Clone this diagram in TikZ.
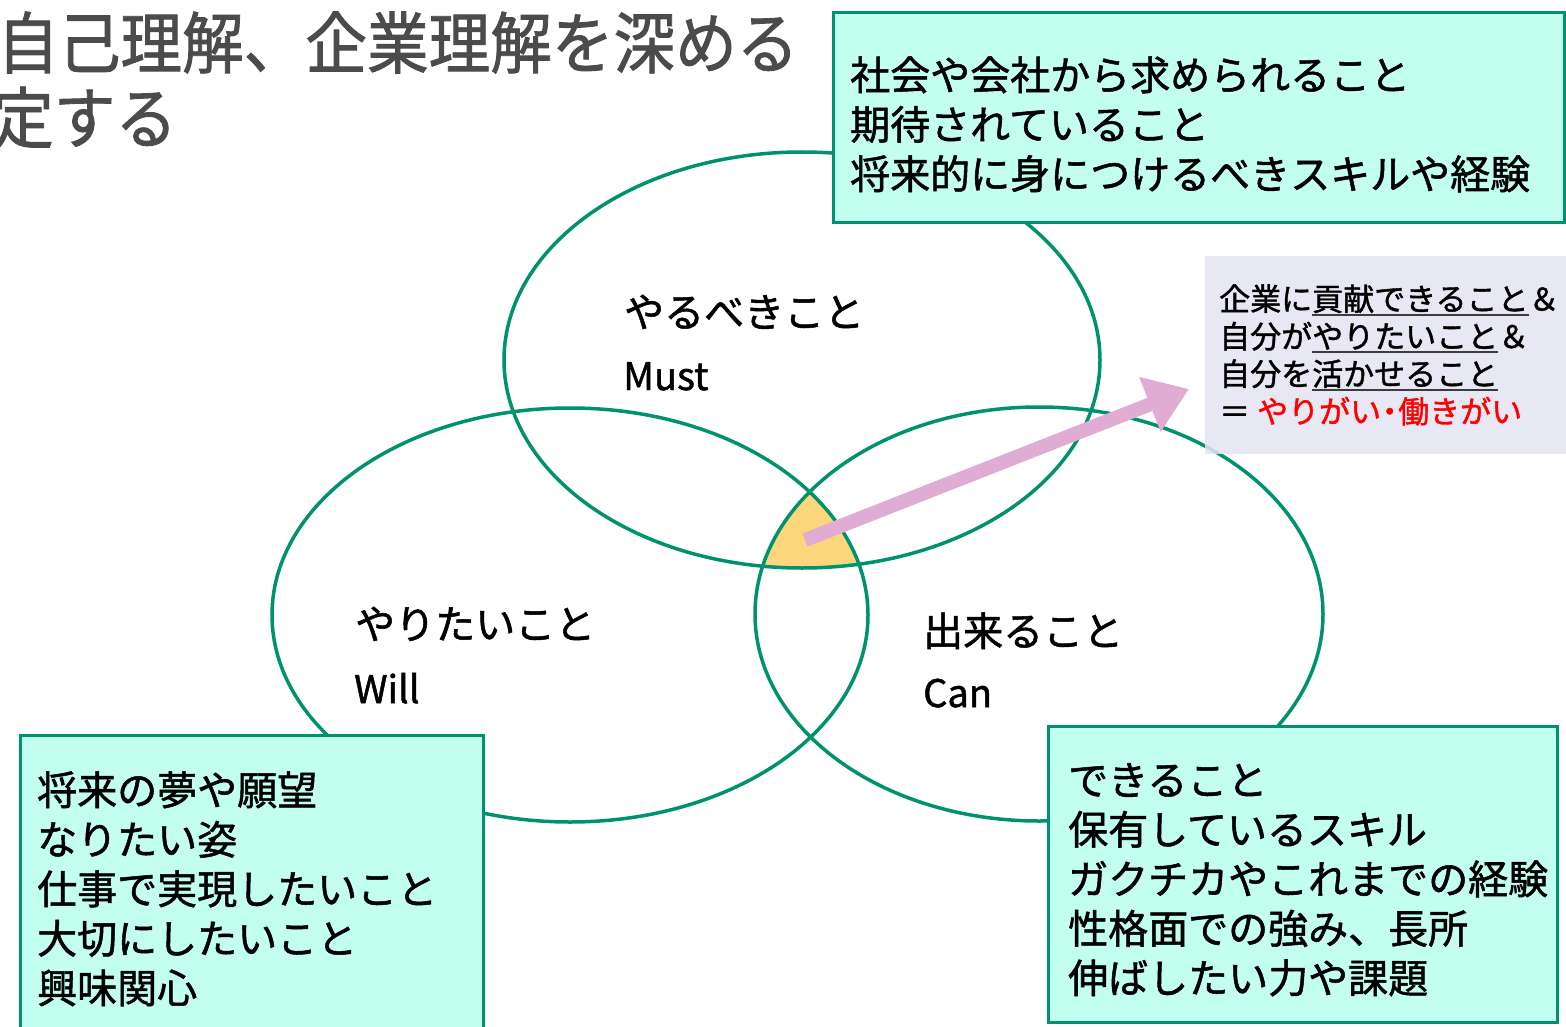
\documentclass[tikz,border=0pt]{standalone}
\usepackage{fontspec}
\usepackage{graphicx}
\setmainfont{Noto Sans CJK JP}[FakeBold=1.3]
\usetikzlibrary{arrows.meta}
\definecolor{vgreen}{RGB}{0,146,110}
\definecolor{boxfill}{RGB}{194,255,238}
\definecolor{notefill}{RGB}{228,228,243}
\definecolor{trifill}{RGB}{253,213,122}
\definecolor{pinkarrow}{RGB}{224,172,212}
\definecolor{titlegray}{RGB}{75,75,75}
\definecolor{ulgray}{RGB}{60,60,60}
\newcommand\myul[1]{\setbox0\hbox{#1}\rlap{\textcolor{ulgray}{\rule[-5pt]{\wd0}{1.6pt}}}\box0}
\newcommand\narrowdot{\hbox to 0.55em{\hss・\hss}}
\tikzset{
  venn/.style={draw=vgreen, line width=3.5pt},
  infobox/.style={draw=vgreen, line width=3pt, fill=boxfill},
  boxtext/.style={anchor=base west, inner sep=0pt, align=left, font=\fontsize{40}{49.5}\selectfont},
  jplabel/.style={anchor=base west, inner sep=0pt, font=\fontsize{40}{48}\selectfont},
  enlabel/.style={anchor=base west, inner sep=0pt, font=\fontsize{38}{46}\selectfont},
  titletext/.style={anchor=base west, inner sep=0pt, text=titlegray, font=\fontsize{67}{74}\selectfont},
}
\begin{document}
\begin{tikzpicture}[x=1pt,y=-1pt]
\clip (0,0) rectangle (1566,1027);
\fill[white] (0,0) rectangle (1566,1027);

% title
\node[titletext] (title1) at (-3,68) {\scalebox{0.92}[1]{自己理解、企業理解を深める}};
\node[titletext] (title2) at (-8,143) {\scalebox{0.92}[1]{定する}};

% ellipse centres
\coordinate (cMust) at (802,360);
\coordinate (cWill) at (570,615);
\coordinate (cCan) at (1039,614);

% centre region (intersection of the three ellipses)
\begin{scope}
  \clip (cMust) ellipse [x radius=299, y radius=209];
  \clip (cWill) ellipse [x radius=299, y radius=208];
  \fill[trifill] (cCan) ellipse [x radius=285, y radius=208];
\end{scope}

% ellipses
\draw[venn] (cMust) ellipse [x radius=298, y radius=208];
\draw[venn] (cWill) ellipse [x radius=298, y radius=207];
\draw[venn] (cCan) ellipse [x radius=284, y radius=207];

% circle labels
\node[jplabel] (mustjp) at (624,327) {やるべきこと};
\node[enlabel] (musten) at (623,390) {Must};
\node[jplabel] (willjp) at (355,639) {やりたいこと};
\node[enlabel] (willen) at (354,703) {Will};
\node[jplabel] (canjp) at (923,646) {出来ること};
\node[enlabel] (canen) at (923,707) {Can};

% info boxes
\draw[infobox] (833,13) rectangle (1564,223);
\node[boxtext] (musttext) at (850,189) {社会や会社から求められること\\期待されていること\\将来的に身につけるべきスキルや経験};

\draw[infobox] (20,735) rectangle (483,1060);
\node[boxtext] (willtext) at (37,1003) {将来の夢や願望\\なりたい姿\\仕事で実現したいこと\\大切にしたいこと\\興味関心};

\draw[infobox] (1048,726) rectangle (1557,1022);
\node[boxtext] (cantext) at (1068,993) {できること\\保有しているスキル\\ガクチカやこれまでの経験\\性格面での強み、長所\\伸ばしたい力や課題};

% note box
\fill[notefill, fill opacity=0.85] (1205,256) rectangle (1570,454);
\node[anchor=base west, inner sep=0pt, align=left, font=\fontsize{31}{37.5}\selectfont] (note) at (1219,423)
  {企業に\myul{貢献できること}＆\\自分が\myul{やりたいこと}＆\\自分を\myul{活かせること}\\＝\ \textcolor{red}{やりがい\narrowdot 働きがい}};

% arrow
\coordinate (arrS) at (805,540);
\coordinate (arrE) at (1189,389);
\draw[pinkarrow, line width=14pt, -{Triangle[length=42pt,width=56pt]}] (arrS) -- (arrE);
\end{tikzpicture}
\end{document}
